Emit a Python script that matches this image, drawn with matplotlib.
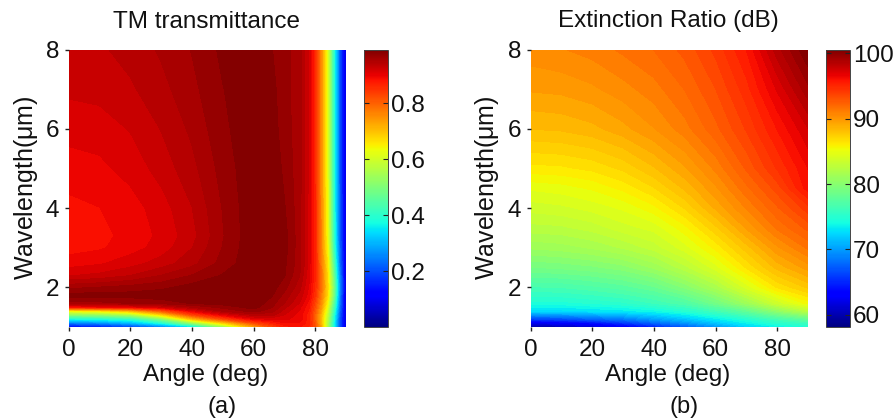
import numpy as np
import matplotlib
matplotlib.use('Agg')
import matplotlib.pyplot as plt
from matplotlib.cm import ScalarMappable
from matplotlib.colors import Normalize

plt.rcParams['font.family'] = ['Liberation Sans', 'DejaVu Sans']
plt.rcParams['mathtext.fontset'] = 'custom'
plt.rcParams['mathtext.rm'] = 'Liberation Sans'

## TM transmittance
angle_a = [0, 10, 20, 30, 40, 50, 60, 66, 70, 75, 78, 80, 82, 84, 86, 88, 90]
wave_a = [1, 1.1, 1.2, 1.3, 1.4, 1.5, 1.6, 1.8, 2, 2.3, 2.6, 3, 3.3, 4, 5, 6, 7, 8]
tm = [
    [.12, .14, .18, .24, .33, .52, .72, .82, .87, .88, .86, .82, .72, .56, .38, .20, .07],
    [.24, .26, .30, .38, .52, .68, .82, .87, .89, .89, .87, .81, .70, .56, .38, .20, .07],
    [.37, .38, .40, .50, .70, .82, .90, .91, .91, .90, .87, .80, .70, .57, .39, .20, .07],
    [.50, .51, .54, .66, .82, .90, .94, .94, .92, .90, .87, .80, .71, .58, .40, .21, .07],
    [.63, .65, .70, .80, .90, .95, .97, .955, .93, .905, .875, .81, .72, .60, .42, .22, .07],
    [.88, .89, .90, .92, .95, .97, .985, .965, .94, .91, .88, .82, .74, .62, .44, .23, .07],
    [.96, .96, .965, .97, .98, .985, .99, .97, .95, .92, .885, .83, .75, .64, .46, .24, .07],
    [.985, .985, .985, .988, .99, .99, .99, .98, .96, .93, .90, .85, .77, .67, .49, .25, .07],
    [.96, .965, .97, .975, .985, .99, .99, .985, .97, .94, .905, .86, .78, .68, .50, .26, .07],
    [.92, .925, .935, .95, .965, .98, .99, .99, .98, .95, .91, .865, .78, .67, .48, .25, .07],
    [.90, .905, .915, .928, .945, .97, .99, .99, .982, .955, .915, .865, .77, .66, .45, .23, .07],
    [.886, .89, .90, .913, .935, .965, .99, .99, .985, .955, .915, .865, .76, .64, .42, .22, .07],
    [.883, .888, .897, .91, .93, .963, .99, .99, .985, .955, .915, .865, .76, .63, .41, .21, .07],
    [.888, .892, .90, .914, .935, .965, .99, .99, .98, .955, .915, .865, .755, .63, .40, .21, .07],
    [.90, .903, .912, .927, .945, .97, .99, .99, .975, .955, .92, .86, .75, .62, .40, .20, .07],
    [.912, .914, .922, .936, .953, .975, .99, .985, .972, .955, .92, .86, .75, .62, .40, .20, .07],
    [.924, .926, .933, .945, .96, .978, .99, .983, .97, .955, .92, .86, .75, .62, .40, .20, .07],
    [.93, .933, .941, .952, .965, .982, .99, .979, .97, .955, .92, .86, .75, .62, .40, .20, .07],
]
tm_range = (0.0, 0.993)
tm_ticks = [0.2, 0.4, 0.6, 0.8]

## Extinction ratio
angle_b = [0, 10, 20, 30, 40, 50, 60, 70, 80, 90]
wave_b = [1, 1.1, 1.2, 1.4, 1.6, 2, 2.5, 3, 3.5, 4, 4.5, 5, 6, 7, 8]
er = [
    [59.5, 60, 61, 62.5, 64.5, 67, 69.5, 72, 73.5, 74.5],
    [62, 62.7, 63.7, 65.5, 67.5, 69.5, 71.5, 73.5, 75, 76],
    [66, 66.5, 67.5, 68.5, 70, 71.5, 73.2, 74.8, 76.5, 78],
    [72.5, 72.6, 72.9, 73.2, 73.8, 74.8, 76.2, 78, 80.3, 82.5],
    [74.5, 74.5, 74.8, 75.2, 76, 77, 78.8, 81, 83.5, 85.5],
    [76.5, 76.6, 77, 77.5, 78.3, 79.8, 81.7, 84.2, 86.5, 87.8],
    [79, 79.2, 79.5, 80, 81, 82.5, 84.3, 86.5, 88.5, 89.8],
    [81, 81.2, 81.6, 82.2, 83, 84.3, 86, 88, 90, 91.5],
    [82.5, 82.6, 83, 83.7, 84.2, 85.6, 87.5, 89.6, 91.5, 92.8],
    [83.6, 83.8, 84.2, 84.7, 85.6, 87.1, 89, 90.8, 92.5, 94.2],
    [84.7, 84.9, 85.3, 86, 87, 88.4, 90, 91.8, 93.5, 96],
    [86.2, 86.3, 86.6, 87.2, 88.2, 89.4, 90.9, 92.7, 94.5, 96.3],
    [88.3, 88.4, 88.7, 89.3, 90.1, 91.1, 92.4, 93.9, 95.7, 97.5],
    [89.6, 89.7, 90, 90.5, 91.1, 92, 93.2, 94.8, 97, 99.2],
    [90.5, 90.7, 91, 91.5, 92, 92.8, 94, 95.7, 98.5, 100.6],
]
er_range = (58.1, 100.6)
er_ticks = [60, 70, 80, 90, 100]

W, H = 896, 420
fig = plt.figure(figsize=(W / 100, H / 100), dpi=100)


## caixa em pixels da imagem -> eixos da figura
def box(x0, y0, x1, y1):
    return fig.add_axes([x0 / W, 1 - y1 / H, (x1 - x0) / W, (y1 - y0) / H])


def painel(ax, cax, x, y, z, faixa, ticks, titulo, letra, xt, xl, yl, xc):
    norm = Normalize(*faixa)
    levels = np.linspace(faixa[0], faixa[1], 70)
    ax.contourf(x, y, z, levels=levels, cmap='jet', norm=norm)
    ax.set_xlim(0, 90)
    ax.set_ylim(1, 8)
    ax.set_xticks([0, 20, 40, 60, 80])
    ax.set_yticks([2, 4, 6, 8])
    ax.tick_params(labelsize=17.5, length=3, width=1, color='#222222', labelcolor='#111111')
    ax.tick_params(axis='x', pad=6)
    ax.tick_params(axis='y', pad=3.5)
    for s in ax.spines.values():
        s.set_visible(False)

    cb = fig.colorbar(ScalarMappable(norm=norm, cmap='jet'), cax=cax)
    cb.set_ticks(ticks)
    cax.tick_params(labelsize=17.5, length=3.5, width=0.8, direction='in', left=True, right=True, pad=2,
                    color='#222222', labelcolor='#111111')
    cb.outline.set_linewidth(0.7)
    cb.outline.set_edgecolor('#444444')

    fig.text(xt / W, 1 - 21.5 / H, titulo, fontsize=17.5, ha='center', va='center', color='#111111')
    fig.text(xl / W, 1 - 374.5 / H, 'Angle (deg)', fontsize=17.5, ha='center', va='center', color='#111111')
    fig.text(xc / W, 1 - 407 / H, letra, fontsize=17, ha='center', va='center', color='#111111')
    fig.text(yl / W, 1 - 188 / H, 'Wavelength($\\mathregular{\\mu}$m)', fontsize=18, rotation=90,
             ha='center', va='center', color='#111111')


ax1 = box(68.5, 49.5, 346, 327)
cax1 = box(364, 49.5, 388, 327)
painel(ax1, cax1, angle_a, wave_a, tm, tm_range, tm_ticks, 'TM transmittance', '(a)', 206, 206, 26, 222.5)

ax2 = box(530.5, 49.5, 808, 327)
cax2 = box(826, 49.5, 850, 327)
painel(ax2, cax2, angle_b, wave_b, er, er_range, er_ticks, 'Extinction Ratio (dB)', '(b)', 668, 668, 487, 684)

fig.savefig('out.png', dpi=100)
